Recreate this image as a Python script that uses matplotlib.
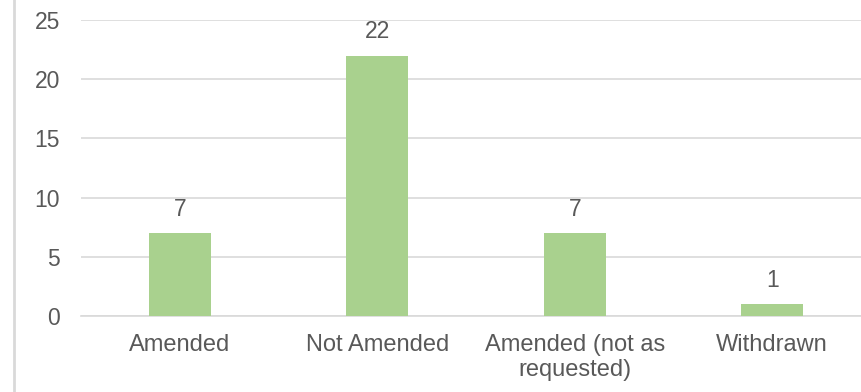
import matplotlib.pyplot as plt
from matplotlib.lines import Line2D

categories = ["Amended", "Not Amended", "Amended (not as\nrequested)", "Withdrawn"]
counts = [7, 22, 7, 1]
yticks = [0, 5, 10, 15, 20, 25]

text_color = "#595959"
grid_color = "#D9D9D9"
bar_color = "#A9D18E"

plt.rcParams["font.family"] = ["Liberation Sans", "DejaVu Sans"]

fig = plt.figure(figsize=(8.61, 3.92), dpi=100)
ax = fig.add_axes([81 / 861, 76 / 392, 780 / 861, 296 / 392])

x = list(range(len(categories)))
ax.bar(x, counts, width=0.313, color=bar_color, zorder=3)

for xi, v in zip(x, counts):
    ax.annotate(str(v), (xi, v), xytext=(0, 9), textcoords="offset points",
                ha="center", va="bottom", fontsize=16.5, color=text_color)

ax.set_xlim(-0.5, -0.5 + 780 / 197.5)
ax.set_ylim(0, 25)
ax.set_yticks(yticks)
ax.set_xticks(x)
ax.set_xticklabels(categories, fontsize=17, color=text_color, linespacing=1.2)
ax.tick_params(axis="y", labelsize=16.5, labelcolor=text_color, length=0, pad=15)
ax.tick_params(axis="x", length=0, pad=13)
ax.yaxis.grid(True, color=grid_color, linewidth=1.2, zorder=0)
ax.set_axisbelow(True)
for side in ["top", "right", "left"]:
    ax.spines[side].set_visible(False)
ax.spines["bottom"].set_color(grid_color)
ax.spines["bottom"].set_linewidth(1.2)

# chart area border on the left edge
fig.add_artist(Line2D([14 / 861, 14 / 861], [0, 1], color=grid_color,
                      linewidth=2, transform=fig.transFigure))

fig.savefig("out.png", dpi=100)
